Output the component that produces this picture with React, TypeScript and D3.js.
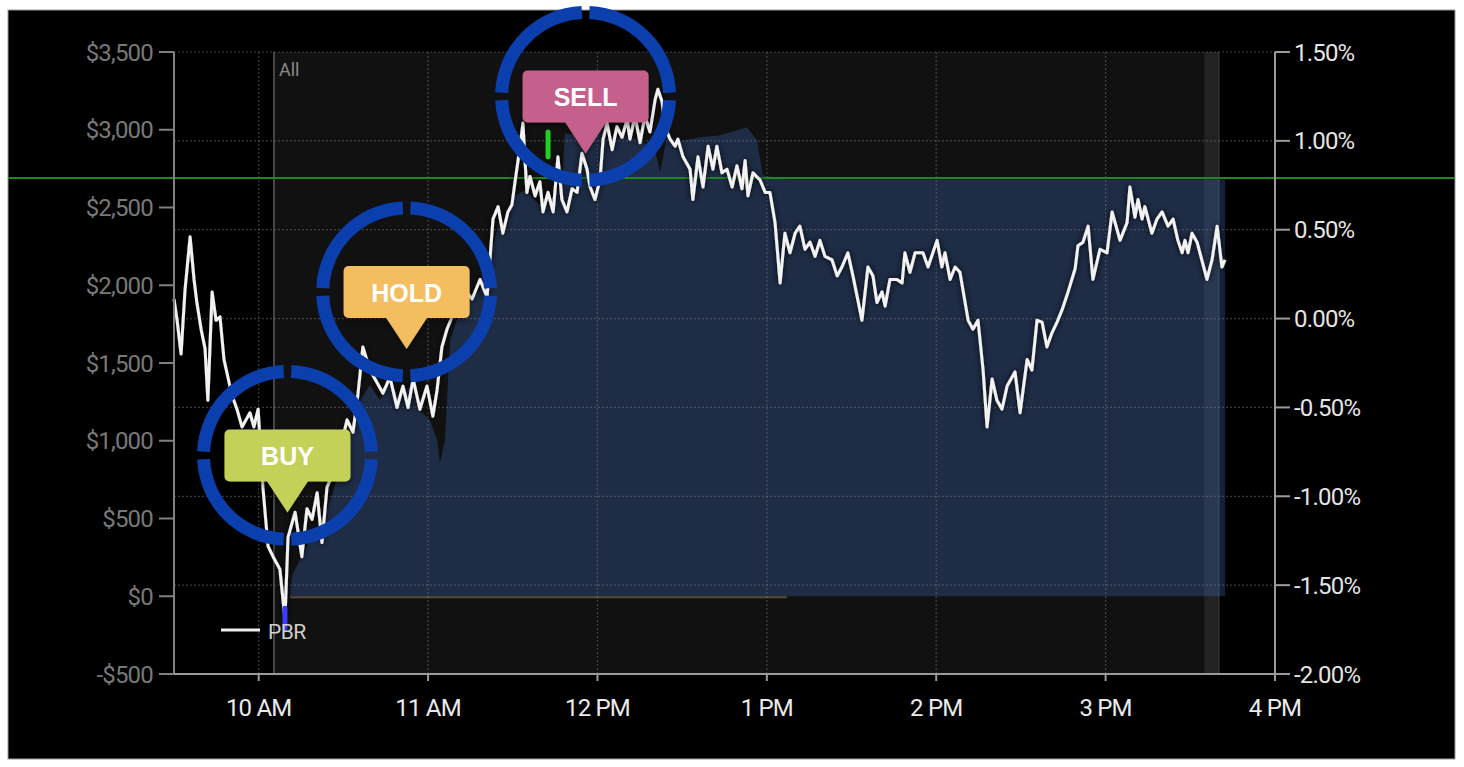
import React from "react";
import * as d3 from "d3";

// ---- data ----
// PBR intraday change, minutes since 9:30 AM and percent change (right axis)
const LINE_MIN = [0.0,1.1,2.5,3.9,5.7,7.1,8.1,9.6,11.0,12.0,13.5,14.9,16.3,17.7,19.1,20.5,22.3,24.1,25.5,26.9,28.3,29.8,31.5,33.3,35.1,37.5,39.3,40.4,42.9,45.3,47.1,48.9,50.7,52.4,54.2,56.3,58.8,61.3,63.4,65.2,66.9,69.4,71.9,74.0,76.5,79.0,81.1,82.9,84.7,87.1,89.6,91.7,93.2,94.9,96.7,98.5,100.6,103.1,105.6,108.4,110.9,113.0,114.8,116.5,118.3,119.7,120.8,122.6,123.6,125.0,126.1,127.9,129.6,130.7,132.5,134.3,136.0,137.4,139.2,141.0,142.8,144.5,146.3,147.4,149.1,150.9,152.0,153.4,155.2,156.9,158.7,160.5,161.5,163.3,165.1,166.8,168.6,170.4,171.4,172.9,173.9,175.7,177.5,178.5,180.3,182.8,183.8,185.6,187.4,189.2,190.9,192.3,194.1,195.9,197.7,199.4,201.2,202.3,203.3,205.1,207.6,209.4,211.1,212.9,214.7,216.4,218.2,220.0,221.7,223.5,225.3,227.1,228.8,230.6,233.1,234.9,236.6,238.7,240.5,243.7,245.8,247.6,249.0,250.8,251.9,253.6,256.1,257.9,258.9,260.7,262.5,265.3,267.1,270.3,272.0,273.1,274.9,276.7,278.4,281.3,283.0,284.8,286.6,288.0,289.8,291.5,293.3,295.1,297.9,299.7,302.2,303.9,305.7,307.5,309.2,311.0,312.8,314.6,316.7,319.2,320.2,322.0,323.8,325.5,328.0,330.5,332.3,335.1,337.6,338.6,340.4,341.5,342.9,343.9,346.4,348.2,350.0,352.1,353.9,355.6,357.1,358.1,359.2,360.6,362.4,365.9,367.7,369.5,371.2,372.3];
const LINE_PCT = [0.11,-0.01,-0.20,0.16,0.46,0.22,0.09,-0.06,-0.17,-0.46,0.15,-0.01,0.01,-0.23,-0.33,-0.43,-0.51,-0.61,-0.57,-0.53,-0.61,-0.51,-0.95,-1.28,-1.34,-1.41,-1.69,-1.23,-1.09,-1.34,-1.07,-1.13,-0.98,-1.26,-0.95,-0.87,-0.74,-0.57,-0.64,-0.42,-0.16,-0.29,-0.36,-0.42,-0.33,-0.50,-0.38,-0.50,-0.34,-0.51,-0.38,-0.55,-0.40,-0.16,-0.06,0.01,0.08,0.16,0.11,0.22,0.12,0.56,0.63,0.48,0.60,0.64,0.77,0.97,1.10,0.71,0.80,0.69,0.77,0.60,0.71,0.60,0.91,0.67,0.60,0.73,0.71,0.93,0.84,0.74,0.67,0.78,1.01,1.10,0.95,1.08,1.02,1.12,1.01,1.14,0.99,1.14,1.05,1.23,1.29,1.22,1.08,1.01,0.97,1.01,0.91,0.84,0.67,0.91,0.74,0.97,0.84,0.97,0.82,0.84,0.74,0.86,0.73,0.89,0.69,0.82,0.78,0.71,0.71,0.54,0.20,0.48,0.37,0.48,0.52,0.39,0.43,0.35,0.44,0.35,0.33,0.24,0.29,0.37,0.24,-0.01,0.29,0.24,0.09,0.15,0.07,0.22,0.22,0.20,0.37,0.26,0.37,0.37,0.29,0.44,0.29,0.37,0.22,0.29,0.26,-0.01,-0.06,-0.01,-0.29,-0.61,-0.34,-0.46,-0.51,-0.38,-0.30,-0.53,-0.23,-0.29,-0.01,-0.02,-0.16,-0.08,-0.02,0.05,0.15,0.28,0.41,0.43,0.52,0.22,0.39,0.37,0.60,0.44,0.54,0.74,0.57,0.67,0.56,0.63,0.48,0.56,0.60,0.52,0.56,0.44,0.37,0.44,0.37,0.48,0.43,0.22,0.33,0.52,0.29,0.33];

// Position value in dollars (left axis)
const AREA_MIN = [41.1,41.8,44.6,48.2,51.7,55.3,58.8,62.3,65.9,69.4,73.0,76.5,80.1,83.6,87.1,90.7,93.2,94.2,96.0,97.8,101.3,104.9,108.4,111.9,114.8,117.2,120.8,124.3,129.6,135.0,137.4,138.5,143.8,149.1,154.4,159.8,165.1,170.4,172.2,174.6,181.0,186.3,193.4,199.4,203.0,206.5,208.6,217.1,372.3];
const AREA_USD = [0,135,232,360,424,617,810,1003,1260,1357,1260,1389,1260,1357,1196,1132,1003,855,1003,1646,1839,1904,1968,2161,2386,2322,2579,2611,2515,2579,2643,2978,2965,3029,2933,2965,2933,2868,2727,2952,2933,2952,2965,2997,3016,2933,2707,2680,2680];
const BASELINE_END_MIN = 217.1;

const TARGET_USD = 2690;

const USD_TICKS = [-500, 0, 500, 1000, 1500, 2000, 2500, 3000, 3500];
const PCT_TICKS = [-2, -1.5, -1, -0.5, 0, 0.5, 1, 1.5];
const HOUR_TICKS = [30, 90, 150, 210, 270, 330, 390];
const HOUR_LABELS = ["10 AM", "11 AM", "12 PM", "1 PM", "2 PM", "3 PM", "4 PM"];

const RANGE_ALL = [35.4, 370.1];
const RANGE_LATE = [364.9, 370.1];

const SIGNAL_LABELS = ["BUY", "HOLD", "SELL"];
const SIGNAL_MIN = [40.2, 82.4, 145.8];
const SIGNAL_PCT = [-0.77, 0.15, 1.25];

const TRADE_MIN = [39.3, 132.5];
const TRADE_LOW = [-1.74, 0.91];
const TRADE_HIGH = [-1.63, 1.05];

const SERIES_NAME = "PBR";

// ---- styles ----
const SIGNAL_COLORS = ["#c3d159", "#f3bd60", "#c5608c"];
const TRADE_COLORS = ["#3b3bff", "#22d022"];
const FONT = "Roboto, 'Liberation Sans', Arial, sans-serif";

export default function App() {
  const W = 1464, H = 767;
  const left = 174, right = 1275, top = 52, bottom = 674;

  const x = d3.scaleLinear().domain([0, 390]).range([left, right]);
  const yPct = d3.scaleLinear().domain([-2, 1.5]).range([bottom, top]);
  const yUsd = d3.scaleLinear().domain([-500, 3500]).range([bottom, top]);

  const lineData = LINE_MIN.map((m, i) => [m, LINE_PCT[i]] as [number, number]);
  const areaData = AREA_MIN.map((m, i) => [m, AREA_USD[i]] as [number, number]);

  const linePath = d3.line<[number, number]>().x(d => x(d[0])).y(d => yPct(d[1]))(lineData) || "";
  const areaPath = d3.area<[number, number]>().x(d => x(d[0])).y0(yUsd(0)).y1(d => yUsd(d[1]))(areaData) || "";

  const fmtUsd = (v: number) => (v < 0 ? "-$" : "$") + d3.format(",")(Math.abs(v));
  const fmtPct = (v: number) => (v < 0 ? "-" : "") + d3.format(".2f")(Math.abs(v)) + "%";

  const ringR0 = 77.5, ringR1 = 90.5, gap = 0.045;
  const arc = d3.arc<any>();
  const ringSegs = [0, 1, 2, 3].map(k =>
    arc({ innerRadius: ringR0, outerRadius: ringR1, startAngle: k * Math.PI / 2 + gap, endAngle: (k + 1) * Math.PI / 2 - gap }) as string
  );

  const gridColor = "rgba(130,130,130,0.45)";

  return (
    <svg width={W} height={H} style={{ position: "absolute", left: 0, top: 0, fontFamily: FONT }}>
      <defs>
        <filter id="lineShadow" x="-10%" y="-10%" width="120%" height="120%">
          <feDropShadow dx="0" dy="0" stdDeviation="3" floodColor="#000" floodOpacity="0.95" />
        </filter>
        <filter id="boxShadow" x="-20%" y="-20%" width="140%" height="160%">
          <feDropShadow dx="0" dy="3" stdDeviation="3" floodColor="#000" floodOpacity="0.45" />
        </filter>
      </defs>
      <rect x={0} y={0} width={W} height={H} fill="#fff" />
      <rect x={8} y={10} width={1447} height={749} fill="#000" stroke="#999" strokeWidth={1} />

      {/* range background */}
      <rect x={x(RANGE_ALL[0])} y={top} width={x(RANGE_ALL[1]) - x(RANGE_ALL[0])} height={bottom - top} fill="#111" />
      <rect x={x(RANGE_LATE[0])} y={top} width={x(RANGE_LATE[1]) - x(RANGE_LATE[0])} height={bottom - top} fill="#222" />
      <line x1={x(RANGE_ALL[0])} x2={x(RANGE_ALL[0])} y1={top} y2={bottom} stroke="#5a5a5a" strokeWidth={1.5} />
      <line x1={x(RANGE_ALL[1])} x2={x(RANGE_ALL[1])} y1={top} y2={bottom} stroke="#333" strokeWidth={1.5} />
      <text x={x(RANGE_ALL[0]) + 5} y={76} fill="#8a8a8a" fontSize={18}>All</text>

      {/* area */}
      <path d={areaPath} fill="rgba(64,110,197,0.3)" />
      <line x1={x(AREA_MIN[0])} x2={x(BASELINE_END_MIN)} y1={yUsd(0) + 1} y2={yUsd(0) + 1} stroke="#5b4b36" strokeWidth={2} />

      {/* grid */}
      {PCT_TICKS.filter(t => t > -2).map(t => (
        <line key={"hg" + t} x1={left} x2={right} y1={yPct(t)} y2={yPct(t)} stroke={gridColor} strokeWidth={1.2} strokeDasharray="2,2" />
      ))}
      {HOUR_TICKS.slice(0, -1).map(t => (
        <line key={"vg" + t} x1={x(t)} x2={x(t)} y1={top} y2={bottom} stroke={gridColor} strokeWidth={1.2} strokeDasharray="2,2" />
      ))}

      {/* target line */}
      <line x1={8} x2={1455} y1={yUsd(TARGET_USD)} y2={yUsd(TARGET_USD)} stroke="#1c8a1c" strokeWidth={2} />

      {/* price line */}
      <path d={linePath} fill="none" stroke="#f2f2f2" strokeWidth={3} strokeLinejoin="round" filter="url(#lineShadow)" />

      {/* trade markers */}
      {TRADE_MIN.map((m, i) => (
        <line key={"tr" + i} x1={x(m)} x2={x(m)} y1={yPct(TRADE_LOW[i])} y2={yPct(TRADE_HIGH[i])} stroke={TRADE_COLORS[i]} strokeWidth={5} strokeLinecap="round" />
      ))}

      {/* axes */}
      <line x1={left} x2={left} y1={top} y2={bottom} stroke="#808080" strokeWidth={2} />
      <line x1={right} x2={right} y1={top} y2={bottom} stroke="#9a9a9a" strokeWidth={2} />
      <line x1={left} x2={right} y1={bottom} y2={bottom} stroke="#9a9a9a" strokeWidth={2} />
      {USD_TICKS.map(t => (
        <g key={"u" + t}>
          <line x1={left - 15} x2={left} y1={yUsd(t)} y2={yUsd(t)} stroke="#808080" strokeWidth={2} />
          <text x={153} y={yUsd(t)} dy="0.36em" textAnchor="end" fill="#787878" fontSize={24} letterSpacing={-0.8}>{fmtUsd(t)}</text>
        </g>
      ))}
      {PCT_TICKS.map(t => (
        <g key={"p" + t}>
          <line x1={right} x2={right + 15} y1={yPct(t)} y2={yPct(t)} stroke="#9a9a9a" strokeWidth={2} />
          <text x={1294} y={yPct(t)} dy="0.36em" textAnchor="start" fill="#e4e4e4" fontSize={24} letterSpacing={-0.8}>{fmtPct(t)}</text>
        </g>
      ))}
      {HOUR_TICKS.map((t, i) => (
        <g key={"h" + t}>
          <line x1={x(t)} x2={x(t)} y1={bottom} y2={bottom + 7} stroke="#9a9a9a" strokeWidth={2} />
          <text x={x(t)} y={716} textAnchor="middle" fill="#eaeaea" fontSize={24} letterSpacing={-0.8}>{HOUR_LABELS[i]}</text>
        </g>
      ))}

      {/* legend */}
      <line x1={221} x2={260} y1={630} y2={630} stroke="#eee" strokeWidth={3} />
      <text x={268} y={639} fill="#cfcfcf" fontSize={21} letterSpacing={-0.6}>{SERIES_NAME}</text>

      {/* signals */}
      {SIGNAL_LABELS.map((lab, i) => {
        const cx = x(SIGNAL_MIN[i]);
        const cy = yPct(SIGNAL_PCT[i]);
        return (
          <g key={lab} transform={`translate(${cx},${cy})`}>
            {ringSegs.map((d, k) => <path key={k} d={d} fill="#0c3fae" />)}
            <g filter="url(#boxShadow)">
              <rect x={-63} y={-26} width={126} height={52} rx={5} fill={SIGNAL_COLORS[i]} />
              <path d="M -21 25 L 0 57 L 21 25 Z" fill={SIGNAL_COLORS[i]} />
            </g>
            <text x={0} y={10} textAnchor="middle" fill="#fff" fontSize={25} fontWeight="bold" fontFamily="'Liberation Sans', Arial, sans-serif">{lab}</text>
          </g>
        );
      })}
    </svg>
  );
}
